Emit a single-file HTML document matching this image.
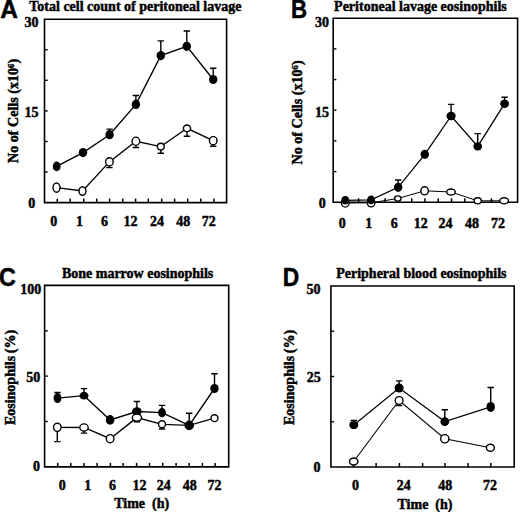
<!DOCTYPE html>
<html><head><meta charset="utf-8"><style>
html,body{margin:0;padding:0;background:#fff;width:520px;height:512px;overflow:hidden;position:relative}
</style></head><body>
<svg width="520" height="512" viewBox="0 0 520 512" style="position:absolute;left:0;top:0">
<rect width="520" height="512" fill="#fff"/>
<path d="M44.5 19.2H226.6V202.6H44.5Z" fill="none" stroke="#000" stroke-width="1.6"/>
<path d="M57.3 202.6V198.6" stroke="#000" stroke-width="1.5"/>
<path d="M70.2 202.6V198.6" stroke="#000" stroke-width="1.5"/>
<path d="M83.8 202.6V198.6" stroke="#000" stroke-width="1.5"/>
<path d="M96.7 202.6V198.6" stroke="#000" stroke-width="1.5"/>
<path d="M109.6 202.6V198.6" stroke="#000" stroke-width="1.5"/>
<path d="M122.7 202.6V198.6" stroke="#000" stroke-width="1.5"/>
<path d="M135.6 202.6V198.6" stroke="#000" stroke-width="1.5"/>
<path d="M148.3 202.6V198.6" stroke="#000" stroke-width="1.5"/>
<path d="M161.7 202.6V198.6" stroke="#000" stroke-width="1.5"/>
<path d="M174.6 202.6V198.6" stroke="#000" stroke-width="1.5"/>
<path d="M187.7 202.6V198.6" stroke="#000" stroke-width="1.5"/>
<path d="M200.8 202.6V198.6" stroke="#000" stroke-width="1.5"/>
<path d="M213.9 202.6V198.6" stroke="#000" stroke-width="1.5"/>
<path d="M44.5 49.8H47.7" stroke="#000" stroke-width="1.4"/>
<path d="M44.5 80.3H47.7" stroke="#000" stroke-width="1.4"/>
<path d="M44.5 110.9H47.7" stroke="#000" stroke-width="1.4"/>
<path d="M44.5 141.5H47.7" stroke="#000" stroke-width="1.4"/>
<path d="M44.5 172.0H47.7" stroke="#000" stroke-width="1.4"/>
<path d="M56.5 187.6 L82.5 191 L109.4 161.9 L135.9 141.25 L160.8 146.6 L187 128.3 L213.2 140.7" fill="none" stroke="#000" stroke-width="1.35"/>
<path d="M56.7 166.4 L83 152.6 L109.6 134.7 L135.9 104.4 L160.8 55.6 L186.8 46.3 L213.2 79.5" fill="none" stroke="#000" stroke-width="1.35"/>
<path d="M109.4 161.9V167.6M106.2 167.6H112.60000000000001" stroke="#000" stroke-width="1.4"/>
<path d="M135.9 141.25V147.5M132.70000000000002 147.5H139.1" stroke="#000" stroke-width="1.4"/>
<path d="M160.8 146.6V153.3M157.60000000000002 153.3H164.0" stroke="#000" stroke-width="1.4"/>
<path d="M187 128.3V136.3M183.8 136.3H190.2" stroke="#000" stroke-width="1.4"/>
<path d="M213.2 140.7V146.3M210.0 146.3H216.39999999999998" stroke="#000" stroke-width="1.4"/>
<path d="M109.6 134.7V129.1M106.39999999999999 129.1H112.8" stroke="#000" stroke-width="1.4"/>
<path d="M135.9 104.4V95.5M132.70000000000002 95.5H139.1" stroke="#000" stroke-width="1.4"/>
<path d="M160.8 55.6V40.9M157.60000000000002 40.9H164.0" stroke="#000" stroke-width="1.4"/>
<path d="M186.8 46.3V31M183.60000000000002 31H190.0" stroke="#000" stroke-width="1.4"/>
<path d="M213.2 79.5V68.3M210.0 68.3H216.39999999999998" stroke="#000" stroke-width="1.4"/>
<ellipse cx="56.5" cy="187.6" rx="3.5" ry="4.6" fill="#fff" stroke="#000" stroke-width="1.4"/>
<ellipse cx="82.5" cy="191" rx="3.5" ry="4.3" fill="#fff" stroke="#000" stroke-width="1.4"/>
<ellipse cx="109.4" cy="161.9" rx="3.8" ry="4.1" fill="#fff" stroke="#000" stroke-width="1.4"/>
<ellipse cx="135.9" cy="141.25" rx="3.8" ry="4.1" fill="#fff" stroke="#000" stroke-width="1.4"/>
<ellipse cx="160.8" cy="146.6" rx="3.4" ry="3.4" fill="#fff" stroke="#000" stroke-width="1.4"/>
<ellipse cx="187" cy="128.3" rx="3.6" ry="3.3" fill="#fff" stroke="#000" stroke-width="1.4"/>
<ellipse cx="213.2" cy="140.7" rx="3.8" ry="4.1" fill="#fff" stroke="#000" stroke-width="1.4"/>
<ellipse cx="56.7" cy="166.4" rx="3.9" ry="4.9" fill="#000"/>
<ellipse cx="83" cy="152.6" rx="4.2" ry="4.6" fill="#000"/>
<ellipse cx="109.6" cy="134.7" rx="4.2" ry="4.6" fill="#000"/>
<ellipse cx="135.9" cy="104.4" rx="4.2" ry="4.6" fill="#000"/>
<ellipse cx="160.8" cy="55.6" rx="4.2" ry="4.6" fill="#000"/>
<ellipse cx="186.8" cy="46.3" rx="4.2" ry="4.6" fill="#000"/>
<ellipse cx="213.2" cy="79.5" rx="4.2" ry="4.6" fill="#000"/>
<path d="M333.2 18.2H517.6V202.3H333.2Z" fill="none" stroke="#000" stroke-width="1.6"/>
<path d="M345.3 202.3V198.3" stroke="#000" stroke-width="1.5"/>
<path d="M358.58 202.3V198.3" stroke="#000" stroke-width="1.5"/>
<path d="M371.86 202.3V198.3" stroke="#000" stroke-width="1.5"/>
<path d="M385.14 202.3V198.3" stroke="#000" stroke-width="1.5"/>
<path d="M398.42 202.3V198.3" stroke="#000" stroke-width="1.5"/>
<path d="M411.7 202.3V198.3" stroke="#000" stroke-width="1.5"/>
<path d="M424.98 202.3V198.3" stroke="#000" stroke-width="1.5"/>
<path d="M438.26 202.3V198.3" stroke="#000" stroke-width="1.5"/>
<path d="M451.54 202.3V198.3" stroke="#000" stroke-width="1.5"/>
<path d="M464.82 202.3V198.3" stroke="#000" stroke-width="1.5"/>
<path d="M478.1 202.3V198.3" stroke="#000" stroke-width="1.5"/>
<path d="M491.38 202.3V198.3" stroke="#000" stroke-width="1.5"/>
<path d="M504.66 202.3V198.3" stroke="#000" stroke-width="1.5"/>
<path d="M333.2 48.9H336.4" stroke="#000" stroke-width="1.4"/>
<path d="M333.2 79.6H336.4" stroke="#000" stroke-width="1.4"/>
<path d="M333.2 110.2H336.4" stroke="#000" stroke-width="1.4"/>
<path d="M333.2 140.9H336.4" stroke="#000" stroke-width="1.4"/>
<path d="M333.2 171.6H336.4" stroke="#000" stroke-width="1.4"/>
<path d="M345.3 203.0 L371.1 202.8 L397.8 198.5 L424.6 190.8 L451 192 L477.7 200.8 L504.1 200.8" fill="none" stroke="#000" stroke-width="1.0"/>
<path d="M345.3 200.3 L371.1 199.9 L398.2 187.3 L424.8 154.3 L451.1 116 L477.7 146.4 L504.6 103.7" fill="none" stroke="#000" stroke-width="1.3"/>
<path d="M398.2 187.3V180M395.0 180H401.4" stroke="#000" stroke-width="1.4"/>
<path d="M451.1 116V104.4M447.90000000000003 104.4H454.3" stroke="#000" stroke-width="1.4"/>
<path d="M477.7 146.4V133.6M474.5 133.6H480.9" stroke="#000" stroke-width="1.4"/>
<path d="M504.6 103.7V97.2M501.40000000000003 97.2H507.8" stroke="#000" stroke-width="1.4"/>
<ellipse cx="345.3" cy="203.0" rx="3.8" ry="4.1" fill="#fff" stroke="#000" stroke-width="1.4"/>
<ellipse cx="371.1" cy="202.8" rx="3.8" ry="4.1" fill="#fff" stroke="#000" stroke-width="1.4"/>
<ellipse cx="397.8" cy="198.5" rx="3.2" ry="2.6" fill="#fff" stroke="#000" stroke-width="1.4"/>
<ellipse cx="424.6" cy="190.8" rx="3.8" ry="4.1" fill="#fff" stroke="#000" stroke-width="1.4"/>
<ellipse cx="451" cy="192" rx="4.3" ry="3.0" fill="#fff" stroke="#000" stroke-width="1.4"/>
<ellipse cx="477.7" cy="200.8" rx="3.6" ry="3.1" fill="#fff" stroke="#000" stroke-width="1.4"/>
<ellipse cx="504.1" cy="200.8" rx="4.3" ry="3.1" fill="#fff" stroke="#000" stroke-width="1.4"/>
<ellipse cx="345.3" cy="200.3" rx="4.0" ry="4.3" fill="#000"/>
<ellipse cx="371.1" cy="199.9" rx="4.0" ry="4.4" fill="#000"/>
<ellipse cx="398.2" cy="187.3" rx="4.2" ry="4.6" fill="#000"/>
<ellipse cx="424.8" cy="154.3" rx="4.2" ry="4.6" fill="#000"/>
<ellipse cx="451.1" cy="116" rx="4.6" ry="4.2" fill="#000"/>
<ellipse cx="477.7" cy="146.4" rx="4.3" ry="4.1" fill="#000"/>
<ellipse cx="504.6" cy="103.7" rx="4.4" ry="4.2" fill="#000"/>
<path d="M44.6 285.4H228.7V466.9H44.6Z" fill="none" stroke="#000" stroke-width="1.6"/>
<path d="M57.7 466.9V462.9" stroke="#000" stroke-width="1.5"/>
<path d="M70.8 466.9V462.9" stroke="#000" stroke-width="1.5"/>
<path d="M84.0 466.9V462.9" stroke="#000" stroke-width="1.5"/>
<path d="M97.1 466.9V462.9" stroke="#000" stroke-width="1.5"/>
<path d="M110.4 466.9V462.9" stroke="#000" stroke-width="1.5"/>
<path d="M123.1 466.9V462.9" stroke="#000" stroke-width="1.5"/>
<path d="M136.6 466.9V462.9" stroke="#000" stroke-width="1.5"/>
<path d="M149.5 466.9V462.9" stroke="#000" stroke-width="1.5"/>
<path d="M162.7 466.9V462.9" stroke="#000" stroke-width="1.5"/>
<path d="M176.1 466.9V462.9" stroke="#000" stroke-width="1.5"/>
<path d="M189.2 466.9V462.9" stroke="#000" stroke-width="1.5"/>
<path d="M202.4 466.9V462.9" stroke="#000" stroke-width="1.5"/>
<path d="M215.1 466.9V462.9" stroke="#000" stroke-width="1.5"/>
<path d="M44.6 330.8H47.800000000000004" stroke="#000" stroke-width="1.4"/>
<path d="M44.6 376.1H47.800000000000004" stroke="#000" stroke-width="1.4"/>
<path d="M44.6 421.5H47.800000000000004" stroke="#000" stroke-width="1.4"/>
<path d="M57.5 398.1 L84 395.7 L110.1 419.9 L136.9 411.5 L162 412.7 L189.2 425.4 L214.5 388.5" fill="none" stroke="#000" stroke-width="1.35"/>
<path d="M57.3 427.3 L84 427.5 L110.1 438.7 L136.9 417.6 L162 424.3 L189.2 425.4 L214.5 418.2" fill="none" stroke="#000" stroke-width="1.35"/>
<path d="M57.5 398.1V392.5M54.3 392.5H60.7" stroke="#000" stroke-width="1.4"/>
<path d="M84 395.7V388.6M80.8 388.6H87.2" stroke="#000" stroke-width="1.4"/>
<path d="M136.9 411.5V401.5M133.70000000000002 401.5H140.1" stroke="#000" stroke-width="1.4"/>
<path d="M162 412.7V405.4M158.8 405.4H165.2" stroke="#000" stroke-width="1.4"/>
<path d="M189.2 425.4V413.3M186.0 413.3H192.39999999999998" stroke="#000" stroke-width="1.4"/>
<path d="M214.5 388.5V373.8M211.3 373.8H217.7" stroke="#000" stroke-width="1.4"/>
<path d="M57.3 427.3V441.6M54.099999999999994 441.6H60.5" stroke="#000" stroke-width="1.4"/>
<path d="M84 427.5V433.1M80.8 433.1H87.2" stroke="#000" stroke-width="1.4"/>
<path d="M136.9 417.6V421.7M133.70000000000002 421.7H140.1" stroke="#000" stroke-width="1.4"/>
<path d="M162 424.3V429.0M158.8 429.0H165.2" stroke="#000" stroke-width="1.4"/>
<ellipse cx="57.5" cy="398.1" rx="3.9" ry="5.0" fill="#000"/>
<ellipse cx="84" cy="395.7" rx="4.5" ry="3.9" fill="#000"/>
<ellipse cx="110.1" cy="419.9" rx="4.3" ry="4.9" fill="#000"/>
<ellipse cx="136.9" cy="411.5" rx="4.8" ry="4.2" fill="#000"/>
<ellipse cx="162" cy="412.7" rx="3.9" ry="4.6" fill="#000"/>
<ellipse cx="189.2" cy="425.4" rx="4.5" ry="3.8" fill="#000"/>
<ellipse cx="214.5" cy="388.5" rx="4.2" ry="4.6" fill="#000"/>
<ellipse cx="57.3" cy="427.3" rx="3.8" ry="4.1" fill="#fff" stroke="#000" stroke-width="1.4"/>
<ellipse cx="84" cy="427.5" rx="4.2" ry="3.6" fill="#fff" stroke="#000" stroke-width="1.4"/>
<ellipse cx="110.1" cy="438.7" rx="3.8" ry="4.1" fill="#fff" stroke="#000" stroke-width="1.4"/>
<ellipse cx="136.9" cy="417.6" rx="4.6" ry="3.6" fill="#fff" stroke="#000" stroke-width="1.4"/>
<ellipse cx="162" cy="424.3" rx="3.5" ry="3.5" fill="#fff" stroke="#000" stroke-width="1.4"/>
<ellipse cx="189.2" cy="425.4" rx="3.8" ry="4.1" fill="#fff" stroke="#000" stroke-width="1.4"/>
<ellipse cx="214.5" cy="418.2" rx="3.5" ry="3.4" fill="#fff" stroke="#000" stroke-width="1.4"/>
<ellipse cx="189.2" cy="425.4" rx="4.7" ry="4.0" fill="#000"/>
<path d="M330.9 286.0H514.2V467.0H330.9Z" fill="none" stroke="#000" stroke-width="1.6"/>
<path d="M353.5 467.0V463.0" stroke="#000" stroke-width="1.5"/>
<path d="M376.1 467.0V463.0" stroke="#000" stroke-width="1.5"/>
<path d="M399.4 467.0V463.0" stroke="#000" stroke-width="1.5"/>
<path d="M422.6 467.0V463.0" stroke="#000" stroke-width="1.5"/>
<path d="M445 467.0V463.0" stroke="#000" stroke-width="1.5"/>
<path d="M468.1 467.0V463.0" stroke="#000" stroke-width="1.5"/>
<path d="M490.8 467.0V463.0" stroke="#000" stroke-width="1.5"/>
<path d="M330.9 331.2H334.09999999999997" stroke="#000" stroke-width="1.4"/>
<path d="M330.9 376.5H334.09999999999997" stroke="#000" stroke-width="1.4"/>
<path d="M330.9 421.8H334.09999999999997" stroke="#000" stroke-width="1.4"/>
<path d="M353.7 461.5 L399.1 400.5 L444.8 438.75 L490.4 447.8" fill="none" stroke="#000" stroke-width="1.1"/>
<path d="M353.8 425 L399.1 388 L444.8 421.6 L490.7 406.9" fill="none" stroke="#000" stroke-width="1.2"/>
<path d="M399.1 400.5V405.6M395.90000000000003 405.6H402.3" stroke="#000" stroke-width="1.4"/>
<path d="M353.8 425V420.5M350.6 420.5H357.0" stroke="#000" stroke-width="1.4"/>
<path d="M399.1 388V380.9M395.90000000000003 380.9H402.3" stroke="#000" stroke-width="1.4"/>
<path d="M444.8 421.6V409.8M441.6 409.8H448.0" stroke="#000" stroke-width="1.4"/>
<path d="M490.7 406.9V387.5M487.5 387.5H493.9" stroke="#000" stroke-width="1.4"/>
<ellipse cx="353.7" cy="461.5" rx="4.2" ry="3.5" fill="#fff" stroke="#000" stroke-width="1.4"/>
<ellipse cx="399.1" cy="400.5" rx="3.9" ry="3.9" fill="#fff" stroke="#000" stroke-width="1.4"/>
<ellipse cx="444.8" cy="438.75" rx="4.1" ry="4.1" fill="#fff" stroke="#000" stroke-width="1.4"/>
<ellipse cx="490.4" cy="447.8" rx="4.0" ry="3.5" fill="#fff" stroke="#000" stroke-width="1.4"/>
<ellipse cx="353.8" cy="425" rx="4.5" ry="4.1" fill="#000"/>
<ellipse cx="399.1" cy="388" rx="4.5" ry="4.5" fill="#000"/>
<ellipse cx="444.8" cy="421.6" rx="4.4" ry="4.4" fill="#000"/>
<ellipse cx="490.7" cy="406.9" rx="4.2" ry="5.0" fill="#000"/>
<text transform="translate(0.3 17.8) scale(1.02 1.05)" font-size="24" font-family='"Liberation Sans", sans-serif' font-weight="bold" stroke="#000" stroke-width="0.45">A</text>
<text transform="translate(291.1 18.4) scale(0.93 1.04)" font-size="24" font-family='"Liberation Sans", sans-serif' font-weight="bold" stroke="#000" stroke-width="0.45">B</text>
<text transform="translate(-1.0 286.0) scale(0.97 1.1)" font-size="24" font-family='"Liberation Sans", sans-serif' font-weight="bold" stroke="#000" stroke-width="0.45">C</text>
<text transform="translate(282.8 285.9) scale(0.95 1.045)" font-size="24" font-family='"Liberation Sans", sans-serif' font-weight="bold" stroke="#000" stroke-width="0.45">D</text>
<text x="29.3" y="11.2" font-size="14" text-anchor="start" font-family='"Liberation Serif", serif' font-weight="bold" stroke="#000" stroke-width="0.45" >Total cell count of peritoneal lavage</text>
<text x="334.1" y="10.7" font-size="14" text-anchor="start" font-family='"Liberation Serif", serif' font-weight="bold" stroke="#000" stroke-width="0.45" >Peritoneal lavage eosinophils</text>
<text x="61.9" y="278.1" font-size="14" text-anchor="start" font-family='"Liberation Serif", serif' font-weight="bold" stroke="#000" stroke-width="0.45" >Bone marrow eosinophils</text>
<text x="336.2" y="278.0" font-size="14" text-anchor="start" font-family='"Liberation Serif", serif' font-weight="bold" stroke="#000" stroke-width="0.45" >Peripheral blood eosinophils</text>
<text x="38.5" y="27.0" font-size="14" text-anchor="end" font-family='"Liberation Serif", serif' font-weight="bold" stroke="#000" stroke-width="0.45" >30</text>
<text x="38.5" y="116.8" font-size="14" text-anchor="end" font-family='"Liberation Serif", serif' font-weight="bold" stroke="#000" stroke-width="0.45" >15</text>
<text x="35.3" y="207.6" font-size="14" text-anchor="end" font-family='"Liberation Serif", serif' font-weight="bold" stroke="#000" stroke-width="0.45" >0</text>
<text x="329.0" y="27.0" font-size="14" text-anchor="end" font-family='"Liberation Serif", serif' font-weight="bold" stroke="#000" stroke-width="0.45" >30</text>
<text x="329.0" y="116.8" font-size="14" text-anchor="end" font-family='"Liberation Serif", serif' font-weight="bold" stroke="#000" stroke-width="0.45" >15</text>
<text x="325.8" y="207.8" font-size="14" text-anchor="end" font-family='"Liberation Serif", serif' font-weight="bold" stroke="#000" stroke-width="0.45" >0</text>
<text x="41.2" y="293.5" font-size="14" text-anchor="end" font-family='"Liberation Serif", serif' font-weight="bold" stroke="#000" stroke-width="0.45" >100</text>
<text x="40.2" y="381.5" font-size="14" text-anchor="end" font-family='"Liberation Serif", serif' font-weight="bold" stroke="#000" stroke-width="0.45" >50</text>
<text x="40.1" y="471.2" font-size="14" text-anchor="end" font-family='"Liberation Serif", serif' font-weight="bold" stroke="#000" stroke-width="0.45" >0</text>
<text x="320.5" y="294.0" font-size="14" text-anchor="end" font-family='"Liberation Serif", serif' font-weight="bold" stroke="#000" stroke-width="0.45" >50</text>
<text x="320.7" y="382.2" font-size="14" text-anchor="end" font-family='"Liberation Serif", serif' font-weight="bold" stroke="#000" stroke-width="0.45" >25</text>
<text x="320.6" y="471.5" font-size="14" text-anchor="end" font-family='"Liberation Serif", serif' font-weight="bold" stroke="#000" stroke-width="0.45" >0</text>
<text x="53.7" y="225.8" font-size="14" text-anchor="middle" font-family='"Liberation Serif", serif' font-weight="bold" stroke="#000" stroke-width="0.45" >0</text>
<text x="79.4" y="225.8" font-size="14" text-anchor="middle" font-family='"Liberation Serif", serif' font-weight="bold" stroke="#000" stroke-width="0.45" >1</text>
<text x="104.4" y="225.8" font-size="14" text-anchor="middle" font-family='"Liberation Serif", serif' font-weight="bold" stroke="#000" stroke-width="0.45" >6</text>
<text x="130.4" y="225.8" font-size="14" text-anchor="middle" font-family='"Liberation Serif", serif' font-weight="bold" stroke="#000" stroke-width="0.45" >12</text>
<text x="157" y="225.8" font-size="14" text-anchor="middle" font-family='"Liberation Serif", serif' font-weight="bold" stroke="#000" stroke-width="0.45" >24</text>
<text x="183.3" y="225.8" font-size="14" text-anchor="middle" font-family='"Liberation Serif", serif' font-weight="bold" stroke="#000" stroke-width="0.45" >48</text>
<text x="208.7" y="225.8" font-size="14" text-anchor="middle" font-family='"Liberation Serif", serif' font-weight="bold" stroke="#000" stroke-width="0.45" >72</text>
<text x="342.2" y="227.8" font-size="14" text-anchor="middle" font-family='"Liberation Serif", serif' font-weight="bold" stroke="#000" stroke-width="0.45" >0</text>
<text x="368.8" y="227.8" font-size="14" text-anchor="middle" font-family='"Liberation Serif", serif' font-weight="bold" stroke="#000" stroke-width="0.45" >1</text>
<text x="394.2" y="227.8" font-size="14" text-anchor="middle" font-family='"Liberation Serif", serif' font-weight="bold" stroke="#000" stroke-width="0.45" >6</text>
<text x="420.8" y="227.8" font-size="14" text-anchor="middle" font-family='"Liberation Serif", serif' font-weight="bold" stroke="#000" stroke-width="0.45" >12</text>
<text x="445.5" y="227.8" font-size="14" text-anchor="middle" font-family='"Liberation Serif", serif' font-weight="bold" stroke="#000" stroke-width="0.45" >24</text>
<text x="472" y="227.8" font-size="14" text-anchor="middle" font-family='"Liberation Serif", serif' font-weight="bold" stroke="#000" stroke-width="0.45" >48</text>
<text x="498" y="227.8" font-size="14" text-anchor="middle" font-family='"Liberation Serif", serif' font-weight="bold" stroke="#000" stroke-width="0.45" >72</text>
<text x="62.3" y="489.8" font-size="14" text-anchor="middle" font-family='"Liberation Serif", serif' font-weight="bold" stroke="#000" stroke-width="0.45" >0</text>
<text x="87.7" y="489.8" font-size="14" text-anchor="middle" font-family='"Liberation Serif", serif' font-weight="bold" stroke="#000" stroke-width="0.45" >1</text>
<text x="112.4" y="489.8" font-size="14" text-anchor="middle" font-family='"Liberation Serif", serif' font-weight="bold" stroke="#000" stroke-width="0.45" >6</text>
<text x="139.6" y="489.8" font-size="14" text-anchor="middle" font-family='"Liberation Serif", serif' font-weight="bold" stroke="#000" stroke-width="0.45" >12</text>
<text x="163.8" y="489.8" font-size="14" text-anchor="middle" font-family='"Liberation Serif", serif' font-weight="bold" stroke="#000" stroke-width="0.45" >24</text>
<text x="189.7" y="489.8" font-size="14" text-anchor="middle" font-family='"Liberation Serif", serif' font-weight="bold" stroke="#000" stroke-width="0.45" >48</text>
<text x="214.6" y="489.8" font-size="14" text-anchor="middle" font-family='"Liberation Serif", serif' font-weight="bold" stroke="#000" stroke-width="0.45" >72</text>
<text x="355.4" y="490.1" font-size="14" text-anchor="middle" font-family='"Liberation Serif", serif' font-weight="bold" stroke="#000" stroke-width="0.45" >0</text>
<text x="403.7" y="490.1" font-size="14" text-anchor="middle" font-family='"Liberation Serif", serif' font-weight="bold" stroke="#000" stroke-width="0.45" >24</text>
<text x="445.2" y="490.1" font-size="14" text-anchor="middle" font-family='"Liberation Serif", serif' font-weight="bold" stroke="#000" stroke-width="0.45" >48</text>
<text x="490" y="490.1" font-size="14" text-anchor="middle" font-family='"Liberation Serif", serif' font-weight="bold" stroke="#000" stroke-width="0.45" >72</text>
<text x="114.2" y="508.3" font-size="14" text-anchor="start" font-family='"Liberation Serif", serif' font-weight="bold" stroke="#000" stroke-width="0.45" >Time&#160;&#160;(h)</text>
<text x="397.5" y="508.8" font-size="14" text-anchor="start" font-family='"Liberation Serif", serif' font-weight="bold" stroke="#000" stroke-width="0.45" >Time&#160;&#160;(h)</text>
<text transform="translate(17.7 163.0) rotate(-90)" font-size="14.1" font-family='"Liberation Serif", serif' font-weight="bold" stroke="#000" stroke-width="0.45">No of Cells (x10<tspan font-size="8.6" dy="-3.9">6</tspan><tspan dy="3.9">)</tspan></text>
<text transform="translate(301.8 164.5) rotate(-90)" font-size="14.1" font-family='"Liberation Serif", serif' font-weight="bold" stroke="#000" stroke-width="0.45">No of Cells (x10<tspan font-size="8.6" dy="-3.9">6</tspan><tspan dy="3.9">)</tspan></text>
<text transform="translate(15.4 425.1) rotate(-90)" font-size="14" font-family='"Liberation Serif", serif' font-weight="bold" stroke="#000" stroke-width="0.45">Eosinophils<tspan dx="2.6">(%)</tspan></text>
<text transform="translate(293.9 425.1) rotate(-90)" font-size="14" font-family='"Liberation Serif", serif' font-weight="bold" stroke="#000" stroke-width="0.45">Eosinophils<tspan dx="2.6">(%)</tspan></text>
</svg>
</body></html>
